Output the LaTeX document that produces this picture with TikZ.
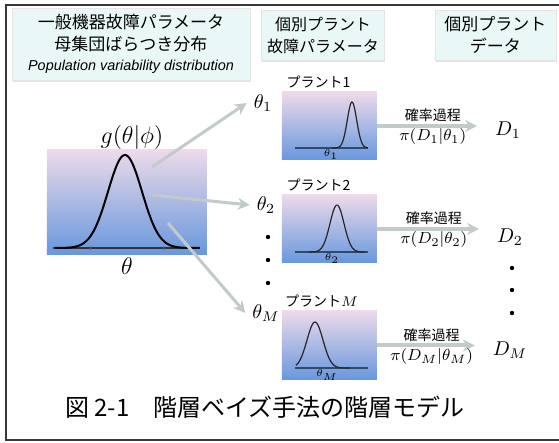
\documentclass[tikz,border=0pt]{standalone}
\usepackage{fontspec}
\setsansfont{Liberation Sans}
\newfontfamily\jpfont{Noto Sans CJK JP}
\usetikzlibrary{arrows.meta, positioning, shadows}

\definecolor{hdrfill}{HTML}{EAF7F7}
\definecolor{boxtop}{HTML}{EDDAEA}
\definecolor{boxmid}{HTML}{B9CAE8}
\definecolor{boxbot}{HTML}{6797DD}
\definecolor{arrowgray}{HTML}{C2CACA}
\definecolor{framegray}{HTML}{383838}
\definecolor{axisblue}{HTML}{2F4A6A}

\begin{document}
\begin{tikzpicture} [
	x=0.5pt, y=-0.5pt, % one unit is one pixel of the layout
	>={Stealth[length=6pt, width=6pt]}, % small solid arrow heads
	header/.style={fill=hdrfill, draw=gray!20, align=center, inner sep=0pt,
		font=\jpfont\fontsize{8.5}{11}\selectfont,
		drop shadow={shadow xshift=0.4pt, shadow yshift=-0.8pt, fill=gray!45}}, % title boxes
	plotbox/.style={top color=boxtop, middle color=boxmid, bottom color=boxbot, inner sep=0pt}, % shaded plots
	plantname/.style={font=\jpfont\fontsize{7}{8}\selectfont, inner sep=1pt},
	flow/.style={->, arrowgray, line width=1.5pt}, % from the population to the plants
	process/.style={->, arrowgray, line width=2pt, shorten >=5.5pt}, % from a plant to its data
	proclabel/.style={midway, above, inner sep=1pt, text=black, font=\jpfont\fontsize{7}{8}\selectfont},
	likelihood/.style={midway, below, inner sep=0.5pt, text=black, font=\fontsize{8}{9}\selectfont},
	curve/.style={black!85, line width=0.6pt},
	baseline/.style={axisblue, line width=0.9pt},
	]
	\useasboundingbox (0,0) rectangle (559,443);
	\draw[framegray, line width=1pt] (6,5) rectangle (575,440);

	% column titles
	\node[header, minimum width=119pt, minimum height=36pt] (hdrpop) at (131,44)
		{一般機器故障パラメータ\\母集団ばらつき分布\\[-1pt]
		{\sffamily\itshape\fontsize{7.2}{8}\selectfont Population variability distribution}};
	\node[header, minimum width=61.5pt, minimum height=25pt, font=\jpfont\fontsize{8}{11}\selectfont] (hdrpar) at (323,35)
		{個別プラント\\故障パラメータ};
	\node[header, minimum width=60.5pt, minimum height=25pt] (hdrdat) at (495.5,35)
		{個別プラント\\データ};

	% population distribution
	\node[plotbox, minimum width=80pt, minimum height=52.5pt] (popbox) at (127,202.5) {};
	\draw[baseline, black!80] (53,248) -- (200,248);
	\foreach \t in {90,163}
		\draw[black!60, line width=0.3pt] (\t,246) -- (\t,250);
	\draw[black, line width=1pt] plot[domain=55:200, samples=80]
		(\x,{248-93*exp(-0.5*((\x-125)/17)^2)});
	\node[font=\fontsize{13}{15}\selectfont] (glabel) at (132,138) {$g(\theta|\phi)$};
	\node[font=\fontsize{12}{14}\selectfont] (thlabel) at (127,266) {$\theta$};

	% plant parameters
	\node[font=\fontsize{10}{12}\selectfont] (th1) at (263,103) {$\theta_1$};
	\node[font=\fontsize{10}{12}\selectfont] (th2) at (266,205) {$\theta_2$};
	\node[font=\fontsize{10}{12}\selectfont] (thM) at (266,313) {$\theta_M$};
	\foreach \y in {237,260,283}
		\fill (268,\y) circle (1.1pt);

	\coordinate (g1) at (152,167);
	\coordinate (g2) at (152,195);
	\coordinate (gM) at (168,223);
	\draw[flow] (g1) -- (th1.west);
	\draw[flow] (g2) -- (th2.west);
	\draw[flow] (gM) -- (thM.west);

	% plants
	\node[plotbox, minimum width=47.5pt, minimum height=34pt] (plant1) at (329.5,126) {};
	\node[plotbox, minimum width=47.5pt, minimum height=34pt] (plant2) at (329.5,229) {};
	\node[plotbox, minimum width=47.5pt, minimum height=34.5pt] (plantM) at (329.5,345.5) {};
	\node[plantname, above=0.5pt of plant1.north, xshift=-5.5pt] (name1) {プラント1};
	\node[plantname, above=0.5pt of plant2.north, xshift=-5.5pt] (name2) {プラント2};
	\node[plantname, above=0.5pt of plantM.north, xshift=-4pt] (nameM) {プラント$M$};

	\draw[baseline] (295,148) -- (368,148);
	\draw[curve] plot[domain=332:368, samples=50] (\x,{148-46*exp(-0.5*((\x-352)/4.7)^2)});
	\node[font=\fontsize{5}{6}\selectfont, inner sep=0pt] (sub1) at (331,155) {$\theta_1$};

	\draw[baseline] (295,252) -- (368,252);
	\draw[curve] plot[domain=309:365, samples=50] (\x,{252-47*exp(-0.5*((\x-337)/7)^2)});
	\node[font=\fontsize{5}{6}\selectfont, inner sep=0pt] (sub2) at (332,259) {$\theta_2$};

	\draw[baseline] (295,368) -- (368,368);
	\draw[curve] plot[domain=296:350, samples=50] (\x,{368-46*exp(-0.5*((\x-315)/8)^2)});
	\node[font=\fontsize{5}{6}\selectfont, inner sep=0pt] (subM) at (327,375) {$\theta_M$};

	% plant data
	\node[font=\fontsize{10}{12}\selectfont] (D1) at (508,130) {$D_1$};
	\node[font=\fontsize{10}{12}\selectfont] (D2) at (510,237) {$D_2$};
	\node[font=\fontsize{10}{12}\selectfont] (DM) at (510,350) {$D_M$};
	\foreach \y in {268,290,313}
		\fill (512,\y) circle (1.1pt);

	\draw[process] (plant1.east) -- (plant1.east -| D1.west)
		node[proclabel] {確率過程} node[likelihood] {$\pi(D_1|\theta_1)$};
	\draw[process] (plant2.east) -- (plant2.east -| D2.west)
		node[proclabel] {確率過程} node[likelihood] {$\pi(D_2|\theta_2)$};
	\draw[process] (plantM.east) -- (plantM.east -| DM.west)
		node[proclabel] {確率過程} node[likelihood] {$\pi(D_M|\theta_M)$};

	% caption
	\node[font=\jpfont\fontsize{12}{14}\selectfont] (caption) at (265,407)
		{図 2-1\hspace{1em}階層ベイズ手法の階層モデル};
\end{tikzpicture}
\end{document}
